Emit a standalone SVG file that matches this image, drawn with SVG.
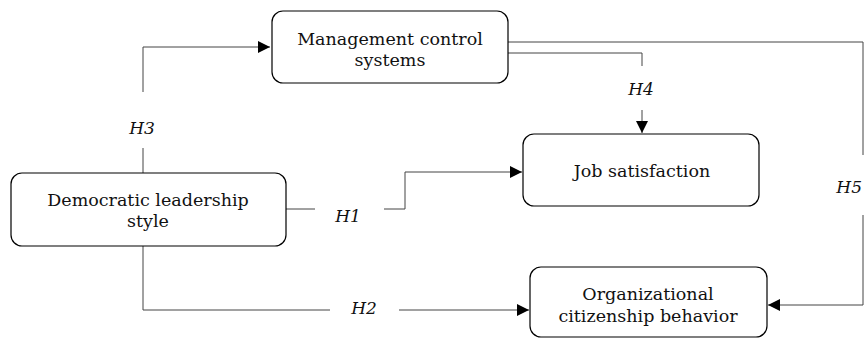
<svg xmlns="http://www.w3.org/2000/svg" width="864" height="338" viewBox="0 0 864 338">
<style>
.box{fill:#fff;stroke:#000;stroke-width:1.2}
.t{font-family:"DejaVu Serif","Liberation Serif",serif;font-size:17.5px;fill:#111;text-anchor:middle}
.lab{font-family:"DejaVu Serif","Liberation Serif",serif;font-size:17px;font-style:italic;fill:#111;text-anchor:middle}
.c{fill:none;stroke:#444;stroke-width:1}
</style>
<defs>
<marker id="ah" viewBox="0 0 10 10" refX="10" refY="5" markerWidth="16" markerHeight="12" markerUnits="userSpaceOnUse" orient="auto">
<path d="M0,0 L10,5 L0,10 z" fill="#000"/>
</marker>
</defs>
<rect width="864" height="338" fill="#fff"/>
<g id="connectors">
<path class="c" d="M143,173 V148"/>
<path class="c" d="M143,92 V47 H270" marker-end="url(#ah)"/>
<path class="c" d="M286,209 H315"/>
<path class="c" d="M384,209 H405 V172 H522" marker-end="url(#ah)"/>
<path class="c" d="M143,246 V310 H330"/>
<path class="c" d="M399,310 H529" marker-end="url(#ah)"/>
<path class="c" d="M508,53 H642 V66"/>
<path class="c" d="M642,110 V133" marker-end="url(#ah)"/>
<path class="c" d="M508,42 H863 V155"/>
<path class="c" d="M863,215 V305 H768" marker-end="url(#ah)"/>
</g>
<g id="labels">
<text class="lab" x="142" y="134">H3</text>
<text class="lab" x="348" y="222">H1</text>
<text class="lab" x="364" y="314">H2</text>
<text class="lab" x="641" y="95">H4</text>
<text class="lab" x="862" y="193" style="text-anchor:end">H5</text>
</g>
<g id="mcs">
<rect class="box" x="272" y="11" width="236" height="72" rx="11"/>
<text class="t" x="390" y="45">Management control</text>
<text class="t" x="390" y="66">systems</text>
</g>
<g id="dls">
<rect class="box" x="11" y="173" width="275" height="73" rx="11"/>
<text class="t" x="148" y="206">Democratic leadership</text>
<text class="t" x="148" y="227">style</text>
</g>
<g id="js">
<rect class="box" x="523" y="134" width="236" height="72" rx="11"/>
<text class="t" x="642" y="177">Job satisfaction</text>
</g>
<g id="ocb">
<rect class="box" x="530" y="267" width="237" height="70" rx="11"/>
<text class="t" x="648" y="300">Organizational</text>
<text class="t" x="648" y="322">citizenship behavior</text>
</g>
</svg>
